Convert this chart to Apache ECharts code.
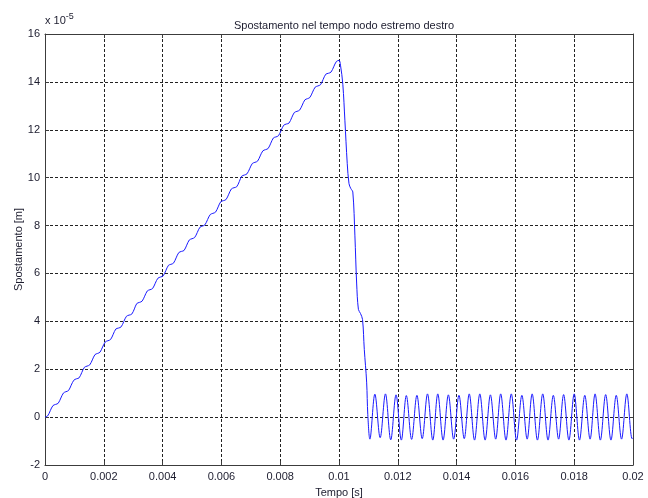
<!DOCTYPE html>
<html>
<head>
<meta charset="utf-8">
<script src="https://cdn.jsdelivr.net/npm/echarts@6/dist/echarts.min.js"></script>
<style>
  html, body { margin: 0; padding: 0; background: #fff; }
  #chart { width: 648px; height: 498px; }
</style>
</head>
<body>
<div id="chart"></div>
<script>
// tempo [s]
let rampTime = [
  0, 0.00009, 0.00018, 0.00027, 0.00036, 0.00045, 0.00054, 0.00063,
  0.00071, 0.00080, 0.00089, 0.00098, 0.00107, 0.00116, 0.00125, 0.00134,
  0.00143, 0.00152, 0.00161, 0.00170, 0.00179, 0.00187, 0.00196, 0.00205,
  0.00214, 0.00223, 0.00232, 0.00241, 0.00250, 0.00259, 0.00268, 0.00277,
  0.00286, 0.00295, 0.00304, 0.00312, 0.00321, 0.00330, 0.00339, 0.00348,
  0.00357, 0.00366, 0.00375, 0.00384, 0.00393, 0.00402, 0.00411, 0.00420,
  0.00428, 0.00437, 0.00446, 0.00455, 0.00464, 0.00473, 0.00482, 0.00491,
  0.00500, 0.00509, 0.00518, 0.00527, 0.00536, 0.00544, 0.00553, 0.00562,
  0.00571, 0.00580, 0.00589, 0.00598, 0.00607, 0.00616, 0.00625, 0.00634,
  0.00643, 0.00652, 0.00661, 0.00669, 0.00678, 0.00687, 0.00696, 0.00705,
  0.00714, 0.00723, 0.00732, 0.00741, 0.00750, 0.00759, 0.00768, 0.00777,
  0.00785, 0.00794, 0.00803, 0.00812, 0.00821, 0.00830, 0.00839, 0.00848,
  0.00857, 0.00866, 0.00875, 0.00884, 0.00893, 0.00901, 0.00910, 0.00919,
  0.00928, 0.00937, 0.00946, 0.00955, 0.00964, 0.00973, 0.00982, 0.00991,
  0.01000
];
// spostamento [x 1e-5 m]
let rampDisp = [
  0, 0.05, 0.27, 0.48, 0.53, 0.58, 0.80, 1.01,
  1.06, 1.11, 1.33, 1.54, 1.60, 1.64, 1.86, 2.08,
  2.13, 2.18, 2.39, 2.61, 2.66, 2.71, 2.93, 3.14,
  3.19, 3.24, 3.46, 3.68, 3.72, 3.77, 3.99, 4.21,
  4.26, 4.30, 4.52, 4.74, 4.79, 4.84, 5.05, 5.27,
  5.32, 5.37, 5.59, 5.80, 5.85, 5.90, 6.12, 6.34,
  6.38, 6.43, 6.65, 6.87, 6.92, 6.96, 7.18, 7.40,
  7.45, 7.50, 7.71, 7.93, 7.98, 8.03, 8.25, 8.46,
  8.51, 8.56, 8.78, 9.00, 9.04, 9.09, 9.31, 9.53,
  9.58, 9.62, 9.84, 10.06, 10.11, 10.16, 10.37, 10.59,
  10.64, 10.69, 10.91, 11.12, 11.17, 11.22, 11.44, 11.66,
  11.70, 11.75, 11.97, 12.19, 12.24, 12.28, 12.50, 12.72,
  12.77, 12.82, 13.03, 13.25, 13.30, 13.35, 13.57, 13.78,
  13.83, 13.88, 14.10, 14.32, 14.36, 14.41, 14.63, 14.85,
  14.90
];

// scarico
let dropTime = [0.01005, 0.01013, 0.01020, 0.01028, 0.01034, 0.01040, 0.01047,
  0.01054, 0.01060, 0.01066, 0.01073, 0.01080, 0.01086, 0.01094, 0.01098];
let dropDisp = [14.7, 13.9, 12.4, 10.6, 9.75, 9.55, 9.4,
  7.6, 5.6, 4.5, 4.33, 4.08, 2.83, 1.46, 0.1];

// oscillazione libera: minimi e massimi alternati
let oscTime = [
  0.01105, 0.01122, 0.01140, 0.01158, 0.01176, 0.01194, 0.01212, 0.01229,
  0.01247, 0.01265, 0.01283, 0.01301, 0.01319, 0.01336, 0.01354, 0.01372,
  0.01390, 0.01408, 0.01426, 0.01443, 0.01461, 0.01479, 0.01497, 0.01515,
  0.01533, 0.01550, 0.01568, 0.01586, 0.01604, 0.01622, 0.01640, 0.01657,
  0.01675, 0.01693, 0.01711, 0.01729, 0.01747, 0.01764, 0.01782, 0.01800,
  0.01818, 0.01836, 0.01854, 0.01871, 0.01889, 0.01907, 0.01925, 0.01943,
  0.01961, 0.01979, 0.01997, 0.02000
];
let oscDisp = [
  -0.92, 0.96, -0.86, 0.97, -0.95, 0.93, -0.96, 0.90,
  -0.93, 0.91, -0.90, 0.97, -0.96, 0.97, -0.96, 0.93,
  -0.92, 0.91, -0.90, 0.97, -0.96, 0.97, -0.96, 0.93,
  -0.92, 0.97, -0.96, 0.97, -0.96, 0.91, -0.92, 0.97,
  -0.96, 0.97, -0.96, 0.91, -0.92, 0.94, -0.96, 0.97,
  -0.96, 0.91, -0.92, 0.97, -0.96, 0.94, -0.96, 0.91,
  -0.92, 0.97, -0.90, -0.86
];

let xTicks = { min: 0, max: 0.02, interval: 0.002 };
let yTicks = { min: -2, max: 16, interval: 2 };

function toPairs(t, v) {
  return t.map((x, i) => [x, v[i]]);
}

let data = toPairs(rampTime, rampDisp)
  .concat(toPairs(dropTime, dropDisp))
  .concat(toPairs(oscTime, oscDisp));

let font = "'Liberation Sans', Arial, sans-serif";
let textColor = "#1c1c2e";
let frameColor = "#3c3c3c";
let gridStyle = { color: "#222", type: [3, 2], width: 1 };

let myChart = echarts.init(document.getElementById("chart"));
myChart.setOption({
  animation: false,
  backgroundColor: "#fff",
  title: {
    text: "Spostamento nel tempo nodo estremo destro",
    left: 339,
    textAlign: "center",
    top: 15,
    textStyle: { fontFamily: font, fontSize: 11, fontWeight: "normal", color: textColor }
  },
  graphic: [
    {
      type: "text",
      left: 45,
      top: 12,
      style: {
        text: "x 10{sup|-5}",
        font: "11px " + font,
        fill: textColor,
        rich: {
          sup: { fontSize: 9, fontFamily: font, fill: textColor, verticalAlign: "top", padding: [0, 0, 8, 0] }
        }
      }
    }
  ],
  grid: { left: 45, right: 15, top: 34, bottom: 33, outerBoundsMode: "none", containLabel: false },
  xAxis: [
    {
      type: "value",
      min: xTicks.min,
      max: xTicks.max,
      interval: xTicks.interval,
      name: "Tempo [s]",
      nameLocation: "middle",
      nameGap: 22,
      nameTextStyle: { fontFamily: font, fontSize: 11, color: textColor },
      axisLine: { show: true, onZero: false, lineStyle: { color: frameColor, width: 1 } },
      axisTick: { inside: true, length: 4, lineStyle: { color: frameColor } },
      axisLabel: {
        fontFamily: font, fontSize: 11, color: textColor, margin: 6,
        formatter: v => (Math.round(v * 1000) / 1000).toString()
      },
      splitLine: { show: true, lineStyle: gridStyle }
    },
    {
      type: "value",
      position: "top",
      min: xTicks.min,
      max: xTicks.max,
      interval: xTicks.interval,
      axisLine: { show: true, onZero: false, lineStyle: { color: frameColor, width: 1 } },
      axisTick: { show: true, inside: true, length: 4, lineStyle: { color: frameColor } },
      axisLabel: { show: false },
      splitLine: { show: false }
    }
  ],
  yAxis: [
    {
      type: "value",
      min: yTicks.min,
      max: yTicks.max,
      interval: yTicks.interval,
      name: "Spostamento [m]",
      nameLocation: "middle",
      nameGap: 21,
      nameMoveOverlap: false,
      nameTextStyle: { fontFamily: font, fontSize: 11, color: textColor },
      axisLine: { show: true, onZero: false, lineStyle: { color: frameColor, width: 1 } },
      axisTick: { show: true, inside: true, length: 4, lineStyle: { color: frameColor } },
      axisLabel: { fontFamily: font, fontSize: 11, color: textColor, margin: 5 },
      splitLine: { show: true, lineStyle: gridStyle }
    },
    {
      type: "value",
      position: "right",
      min: yTicks.min,
      max: yTicks.max,
      interval: yTicks.interval,
      axisLine: { show: true, onZero: false, lineStyle: { color: frameColor, width: 1 } },
      axisTick: { show: true, inside: true, length: 4, lineStyle: { color: frameColor } },
      axisLabel: { show: false },
      splitLine: { show: false }
    }
  ],
  series: [
    {
      type: "line",
      data: data,
      xAxisIndex: 0,
      yAxisIndex: 0,
      showSymbol: false,
      smooth: 0.35,
      lineStyle: { color: "#1a1aff", width: 1 },
      z: 3
    }
  ]
});
</script>
</body>
</html>
